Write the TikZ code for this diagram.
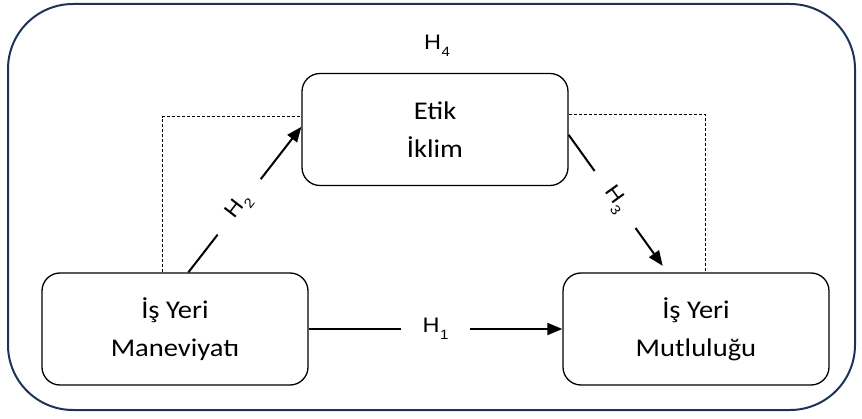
\documentclass[tikz,border=0pt]{standalone}
\usepackage{fontspec}
\setmainfont{Carlito}
\newfontfamily\hfont{Liberation Sans}
\usetikzlibrary{arrows.meta,calc}
\definecolor{navy}{HTML}{1F3358}
\newcommand{\sx}[1]{\scalebox{1.12}[1]{#1}}
\newcommand{\hlab}[1]{\sx{\hfont H\kern0.5pt\raisebox{-6.5pt}{\fontsize{13.5}{14}\selectfont #1}}}
\begin{document}
\begin{tikzpicture}[x=1pt,y=-1pt,
  box/.style={draw, line width=1.3pt, rounded corners=18pt, minimum width=266pt,
    minimum height=112pt, align=center, inner sep=0pt,
    font=\fontsize{25.5}{38}\selectfont},
  frame/.style={draw=navy, line width=2pt, rounded corners=65pt},
  arr/.style={line width=2pt, -{Triangle[length=15pt,width=12pt]}},
  dsh/.style={line width=1pt, dash pattern=on 3pt off 2pt},
  lbl/.style={fill=white, inner xsep=22pt, inner ysep=2pt,
    font=\fontsize{21}{24}\selectfont},
]
\useasboundingbox (0,0) rectangle (862,419);
\draw[frame] (8,4) rectangle (855,410);

\node[box] (E) at (435,129.5) {\sx{Etik}\\\sx{İklim}};
\node[box] (L) at (175,329) {\sx{İş Yeri}\\\sx{Maneviyatı}};
\node[box] (R) at (696,329) {\sx{İş Yeri}\\\sx{Mutluluğu}};

\node[font=\fontsize{21}{24}\selectfont] (h4) at (437,46) {\hlab{4}};

% dashed H4 path
\draw[dsh] ($(L.north west)+(121,0)$) |- ($(E.north west)+(0,44)$);
\draw[dsh] ($(E.north east)+(0,42)$) -| ($(R.north west)+(143,0)$);

% H1
\draw[arr] (L.east) -- node[lbl] {\hlab{1}} (R.west);
% H2
\draw[arr] ($(L.north west)+(147,0)$) -- node[lbl, sloped, pos=0.45] {\hlab{2}} ($(E.north west)+(0,54)$);
% H3
\draw[arr, shorten >=8pt] ($(E.north east)+(0,62)$) -- node[lbl, sloped, pos=0.47] {\hlab{3}} ($(R.north west)+(105,0)$);
\end{tikzpicture}
\end{document}
